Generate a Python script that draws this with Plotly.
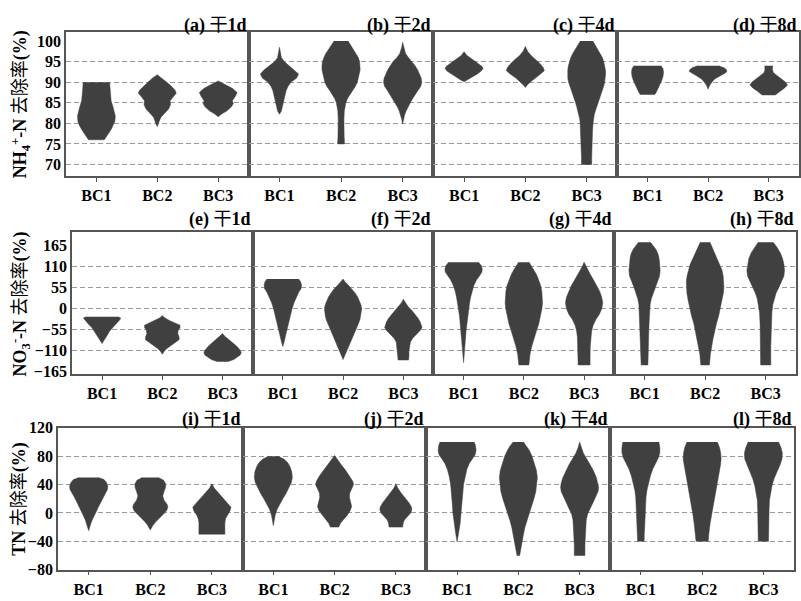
import plotly.graph_objects as go

# ---------------- data (value, relative density width) ----------------
categories = ["BC1", "BC2", "BC3"]
panel_titles = ["(a)|1d", "(b)|2d", "(c)|4d", "(d)|8d",
                "(e)|1d", "(f)|2d", "(g)|4d", "(h)|8d",
                "(i)|1d", "(j)|2d", "(k)|4d", "(l)|8d"]
row1_ticks = [70, 75, 80, 85, 90, 95, 100]
row2_ticks = [-165, -110, -55, 0, 55, 110, 165]
row3_ticks = [-80, -40, 0, 40, 80, 120]
row1_grid = [70, 75, 80, 85, 90, 95]
row2_grid = [-110, -55, 0, 55, 110]
row3_grid = [-40, 0, 40, 80]

a_bc1 = [(90, 0.70), (88.5, 0.72), (87, 0.74), (85.5, 0.78), (84, 0.88), (83, 0.95), (81.8, 1.0), (80.5, 0.98), (79.5, 0.9), (78.5, 0.78), (77.5, 0.64), (76.5, 0.5), (76, 0.42)]
a_bc2 = [(91.8, 0.0), (91, 0.25), (90, 0.5), (89, 0.75), (88, 0.95), (87.3, 1.0), (86.5, 0.85), (85.5, 0.68), (84.5, 0.7), (83.5, 0.6), (82.5, 0.4), (81.5, 0.2), (80.5, 0.1), (79.5, 0.04), (79.2, 0.0)]
a_bc3 = [(90.3, 0.0), (89.5, 0.35), (88.5, 0.75), (87.5, 1.0), (86.5, 0.9), (85.5, 0.75), (84.8, 0.8), (84, 0.7), (83, 0.45), (82.3, 0.2), (81.6, 0.0)]
b_bc1 = [(98.5, 0.0), (97.5, 0.05), (96, 0.1), (95, 0.25), (94, 0.5), (93, 0.8), (92, 1.0), (91, 0.9), (90, 0.6), (89, 0.45), (88, 0.35), (87, 0.3), (86, 0.25), (85, 0.2), (84, 0.15), (83, 0.1), (82.2, 0.0)]
b_bc2 = [(100, 0.37), (99, 0.5), (98, 0.65), (97, 0.8), (96, 0.9), (95, 0.97), (94, 1.0), (93, 1.0), (92, 0.95), (91, 0.9), (90, 0.85), (89, 0.75), (88, 0.6), (87, 0.45), (86, 0.33), (85, 0.25), (84, 0.2), (83, 0.17), (81, 0.15), (79, 0.14), (77, 0.16), (75, 0.18)]
b_bc3 = [(99.7, 0.0), (98.5, 0.05), (97, 0.15), (96, 0.3), (95, 0.5), (94, 0.65), (93, 0.78), (92, 0.88), (91, 0.97), (90, 1.0), (89, 0.95), (88, 0.8), (87, 0.65), (86, 0.52), (85, 0.4), (84, 0.28), (83, 0.18), (82, 0.1), (81, 0.05), (79.8, 0.0)]
c_bc1 = [(97.4, 0.0), (96.5, 0.15), (95.5, 0.45), (94.5, 0.75), (93.8, 0.95), (93.3, 1.0), (92.7, 0.9), (92, 0.7), (91.3, 0.45), (90.6, 0.2), (90.1, 0.0)]
c_bc2 = [(98.7, 0.0), (97.5, 0.12), (96.5, 0.3), (95.5, 0.55), (94.5, 0.78), (93.5, 0.95), (92.8, 1.0), (92, 0.8), (91, 0.5), (90, 0.25), (89.2, 0.08), (88.7, 0.0)]
c_bc3 = [(100, 0.33), (99, 0.45), (98, 0.6), (97, 0.73), (96, 0.83), (95, 0.9), (94, 0.96), (93, 0.99), (92, 1.0), (91, 0.99), (90, 0.95), (89, 0.9), (88, 0.82), (87, 0.74), (86, 0.66), (85, 0.58), (84, 0.52), (83, 0.46), (82, 0.4), (81, 0.36), (80, 0.34), (78, 0.31), (76, 0.29), (74, 0.28), (72, 0.27), (70, 0.27)]
d_bc1 = [(94, 0.72), (93.3, 0.82), (92.5, 0.85), (91.5, 0.83), (90.5, 0.76), (89.5, 0.67), (88.5, 0.57), (87.5, 0.46), (87, 0.38)]
d_bc2 = [(94, 0.55), (93.5, 0.85), (93, 0.98), (92.6, 1.0), (92.2, 0.9), (91.5, 0.6), (90.8, 0.35), (90, 0.2), (89.2, 0.08), (88.3, 0.0)]
d_bc3 = [(94, 0.21), (93, 0.2), (92.3, 0.25), (91.5, 0.45), (90.7, 0.7), (90, 0.9), (89.3, 1.0), (88.6, 0.85), (87.8, 0.6), (87.2, 0.42), (86.9, 0.35)]
e_bc1 = [(-22, 0.85), (-25, 1.0), (-30, 0.95), (-40, 0.75), (-50, 0.55), (-60, 0.4), (-70, 0.28), (-80, 0.15), (-88, 0.05), (-92, 0.0)]
e_bc2 = [(-19, 0.0), (-25, 0.15), (-32, 0.4), (-38, 0.7), (-44, 0.95), (-50, 0.95), (-58, 0.85), (-66, 0.83), (-75, 0.9), (-82, 0.9), (-90, 0.7), (-98, 0.45), (-105, 0.25), (-112, 0.1), (-120, 0.0)]
e_bc3 = [(-66, 0.0), (-72, 0.1), (-80, 0.3), (-90, 0.55), (-100, 0.78), (-108, 0.92), (-115, 1.0), (-122, 0.95), (-128, 0.8), (-134, 0.6), (-139, 0.3)]
f_bc1 = [(77, 0.85), (70, 0.95), (62, 1.0), (52, 0.98), (42, 0.85), (30, 0.72), (15, 0.6), (0, 0.5), (-15, 0.42), (-30, 0.35), (-45, 0.27), (-60, 0.2), (-75, 0.13), (-90, 0.06), (-100, 0.0)]
f_bc2 = [(77, 0.0), (70, 0.1), (60, 0.3), (50, 0.5), (40, 0.65), (30, 0.78), (20, 0.88), (10, 0.95), (0, 1.0), (-10, 0.98), (-20, 0.95), (-30, 0.9), (-45, 0.78), (-60, 0.65), (-75, 0.5), (-90, 0.37), (-105, 0.25), (-120, 0.12), (-134, 0.0)]
f_bc3 = [(24, 0.0), (15, 0.1), (5, 0.25), (-5, 0.45), (-15, 0.62), (-25, 0.78), (-35, 0.9), (-45, 0.98), (-50, 1.0), (-58, 0.9), (-68, 0.7), (-78, 0.5), (-88, 0.38), (-100, 0.32), (-112, 0.3), (-125, 0.3), (-135, 0.28)]
g_bc1 = [(121, 0.8), (112, 0.95), (103, 1.0), (95, 0.98), (85, 0.85), (75, 0.7), (60, 0.55), (45, 0.45), (30, 0.38), (15, 0.32), (0, 0.28), (-20, 0.22), (-40, 0.17), (-60, 0.13), (-80, 0.1), (-100, 0.07), (-120, 0.04), (-142, 0.0)]
g_bc2 = [(121, 0.28), (110, 0.42), (100, 0.55), (90, 0.66), (80, 0.75), (70, 0.83), (60, 0.9), (45, 0.96), (30, 1.0), (15, 1.0), (0, 0.97), (-20, 0.9), (-40, 0.8), (-60, 0.67), (-80, 0.53), (-100, 0.42), (-120, 0.33), (-135, 0.28), (-148, 0.27)]
g_bc3 = [(121, 0.0), (110, 0.1), (100, 0.2), (90, 0.32), (75, 0.5), (60, 0.68), (45, 0.83), (30, 0.94), (15, 1.0), (0, 0.95), (-15, 0.82), (-30, 0.62), (-45, 0.48), (-60, 0.4), (-75, 0.36), (-100, 0.33), (-125, 0.32), (-148, 0.32)]
h_bc1 = [(173, 0.32), (165, 0.45), (155, 0.6), (145, 0.7), (135, 0.76), (120, 0.8), (100, 0.83), (85, 0.8), (70, 0.68), (55, 0.56), (40, 0.45), (25, 0.36), (10, 0.3), (-10, 0.26), (-40, 0.24), (-70, 0.22), (-100, 0.21), (-130, 0.19), (-148, 0.18)]
h_bc2 = [(173, 0.26), (160, 0.38), (145, 0.52), (130, 0.66), (115, 0.8), (100, 0.9), (85, 0.96), (70, 1.0), (55, 1.0), (40, 0.97), (20, 0.9), (0, 0.82), (-20, 0.72), (-40, 0.6), (-60, 0.5), (-80, 0.42), (-100, 0.35), (-120, 0.28), (-148, 0.23)]
h_bc3 = [(173, 0.4), (160, 0.6), (145, 0.78), (130, 0.9), (115, 0.97), (100, 1.0), (85, 0.97), (70, 0.85), (55, 0.7), (40, 0.55), (25, 0.45), (10, 0.38), (-10, 0.33), (-40, 0.3), (-70, 0.28), (-100, 0.27), (-130, 0.27), (-148, 0.27)]
i_bc1 = [(50, 0.5), (47, 0.8), (43, 0.93), (38, 1.0), (33, 0.98), (28, 0.88), (22, 0.75), (15, 0.62), (8, 0.5), (2, 0.4), (-4, 0.28), (-10, 0.18), (-16, 0.1), (-22, 0.04), (-25, 0.0)]
i_bc2 = [(50, 0.42), (46, 0.7), (41, 0.8), (36, 0.8), (30, 0.72), (24, 0.65), (18, 0.72), (12, 0.88), (8, 0.92), (3, 0.85), (-2, 0.68), (-7, 0.48), (-12, 0.3), (-17, 0.15), (-22, 0.05), (-24, 0.0)]
i_bc3 = [(41, 0.0), (35, 0.12), (28, 0.35), (20, 0.6), (13, 0.85), (8, 1.0), (3, 0.95), (-3, 0.8), (-8, 0.72), (-14, 0.68), (-20, 0.68), (-26, 0.68), (-30, 0.68)]
j_bc1 = [(80, 0.25), (76, 0.55), (71, 0.75), (65, 0.88), (58, 0.97), (50, 1.0), (43, 0.95), (36, 0.83), (28, 0.68), (20, 0.5), (12, 0.33), (5, 0.2), (-3, 0.1), (-10, 0.05), (-18, 0.0)]
j_bc2 = [(81, 0.0), (75, 0.15), (68, 0.35), (60, 0.58), (52, 0.8), (45, 0.95), (40, 1.0), (34, 0.92), (28, 0.8), (22, 0.78), (15, 0.85), (9, 0.9), (3, 0.82), (-4, 0.65), (-10, 0.45), (-15, 0.3), (-20, 0.22)]
j_bc3 = [(41, 0.0), (35, 0.1), (28, 0.28), (21, 0.5), (14, 0.7), (8, 0.83), (4, 0.84), (0, 0.78), (-5, 0.62), (-10, 0.45), (-15, 0.38), (-20, 0.36)]
k_bc1 = [(100, 0.9), (95, 0.97), (88, 1.0), (82, 0.95), (76, 0.8), (70, 0.65), (62, 0.52), (52, 0.42), (40, 0.34), (28, 0.3), (15, 0.26), (0, 0.22), (-15, 0.16), (-28, 0.08), (-41, 0.0)]
k_bc2 = [(100, 0.27), (94, 0.45), (88, 0.58), (80, 0.72), (70, 0.85), (60, 0.95), (50, 1.0), (40, 0.98), (30, 0.92), (20, 0.82), (10, 0.7), (0, 0.58), (-10, 0.45), (-20, 0.35), (-30, 0.27), (-40, 0.2), (-50, 0.13), (-60, 0.07)]
k_bc3 = [(100, 0.0), (92, 0.08), (84, 0.2), (76, 0.38), (68, 0.56), (60, 0.72), (50, 0.88), (42, 0.97), (36, 1.0), (30, 0.97), (22, 0.85), (14, 0.7), (6, 0.55), (-2, 0.42), (-10, 0.35), (-20, 0.32), (-30, 0.3), (-45, 0.28), (-60, 0.28)]
l_bc1 = [(100, 0.95), (92, 1.0), (85, 1.0), (78, 0.93), (70, 0.78), (62, 0.63), (52, 0.5), (42, 0.4), (32, 0.32), (22, 0.27), (10, 0.24), (-5, 0.22), (-20, 0.2), (-30, 0.18), (-40, 0.17)]
l_bc2 = [(100, 0.8), (92, 0.92), (84, 0.98), (76, 1.0), (68, 0.97), (58, 0.9), (45, 0.82), (30, 0.72), (15, 0.6), (0, 0.5), (-15, 0.42), (-30, 0.35), (-40, 0.32)]
l_bc3 = [(100, 0.8), (92, 0.93), (84, 1.0), (76, 0.98), (68, 0.88), (58, 0.72), (48, 0.56), (38, 0.45), (28, 0.37), (18, 0.32), (5, 0.3), (-10, 0.28), (-25, 0.27), (-40, 0.27)]

panel_profiles = [
    [a_bc1, a_bc2, a_bc3], [b_bc1, b_bc2, b_bc3], [c_bc1, c_bc2, c_bc3], [d_bc1, d_bc2, d_bc3],
    [e_bc1, e_bc2, e_bc3], [f_bc1, f_bc2, f_bc3], [g_bc1, g_bc2, g_bc3], [h_bc1, h_bc2, h_bc3],
    [i_bc1, i_bc2, i_bc3], [j_bc1, j_bc2, j_bc3], [k_bc1, k_bc2, k_bc3], [l_bc1, l_bc2, l_bc3],
]

# ---------------- style / layout ----------------
W, H = 801, 601
HALF = 0.31            # max half-width of a violin in category units
FILL = "#404040"
AXC = "#555555"
GRIDC = "#9a9a9a"
FONT = "Liberation Serif, Times New Roman, Noto Sans CJK SC, serif"

row_x = [[66, 249, 434, 618, 800],
         [72, 253, 434, 615, 797],
         [58, 243, 427, 611, 795]]
row_y = [(25, 173), (231, 377), (432, 578)]
row_range = [[67.17, 102.13], [-172.6, 198.8], [-80, 120]]
row_ticks = [row1_ticks, row2_ticks, row3_ticks]
row_grid = [row1_grid, row2_grid, row3_grid]
row_title_y = [18, 218, 423]
ylabels = ["<b>NH<sub>4</sub><sup>+</sup>-N </b>去除率<b>(%)</b>",
           "<b>NO<sub>3</sub><sup>-</sup>-N </b>去除率<b>(%)</b>",
           "<b>TN </b>去除率<b>(%)</b>"]

fig = go.Figure()
layout = dict(width=W, height=H, margin=dict(l=0, r=0, t=0, b=0),
              paper_bgcolor="white", plot_bgcolor="white", showlegend=False,
              font=dict(family=FONT, color="black"))
annotations = []
positions = [1, 2, 3]

for p in range(12):
    r, c = divmod(p, 4)
    n = p + 1
    xa = "x" if n == 1 else f"x{n}"
    ya = "y" if n == 1 else f"y{n}"
    for k, prof in enumerate(panel_profiles[p]):
        vals = [v for v, w in prof]
        wids = [w for v, w in prof]
        xs = [positions[k] + HALF * w for w in wids] + [positions[k] - HALF * w for w in wids[::-1]]
        ys = vals + vals[::-1]
        fig.add_trace(go.Scatter(x=xs, y=ys, xaxis=xa, yaxis=ya, mode="lines",
                                 fill="toself", fillcolor=FILL,
                                 line=dict(color=FILL, width=0.5), hoverinfo="skip"))
    x0, x1 = row_x[r][c], row_x[r][c + 1]
    y0, y1 = row_y[r]
    layout["xaxis" if n == 1 else f"xaxis{n}"] = dict(
        domain=[x0 / W, x1 / W], anchor=ya, range=[0.5, 3.5],
        tickmode="array", tickvals=positions, ticktext=categories,
        ticks="outside", ticklen=4, tickwidth=1, tickcolor=AXC,
        showline=True, linecolor=AXC, linewidth=1.5, mirror=True,
        showgrid=False, zeroline=False,
        tickfont=dict(size=16, family=FONT, weight="bold", color="black"))
    layout["yaxis" if n == 1 else f"yaxis{n}"] = dict(
        domain=[1 - y1 / H, 1 - y0 / H], anchor=xa, range=row_range[r],
        tickmode="array", tickvals=row_ticks[r], showticklabels=(c == 0),
        ticks="", showline=True, linecolor=AXC, linewidth=1.5, mirror=True,
        showgrid=False, zeroline=False,
        minor=dict(tickvals=row_grid[r], showgrid=True, gridcolor=GRIDC,
                   griddash="5px,3px", gridwidth=1, ticks=""),
        tickfont=dict(size=16, family=FONT, weight="bold", color="black"))
    lab, day = panel_titles[p].split("|")
    annotations.append(dict(xref="paper", yref="paper", x=x1 / W, y=1 - row_title_y[r] / H,
                            xanchor="right", yanchor="middle", showarrow=False,
                            text=f"<b>{lab}</b> 干<b>{day}</b>",
                            font=dict(size=18, family=FONT, color="black")))

for r in range(3):
    y0, y1 = row_y[r]
    annotations.append(dict(xref="paper", yref="paper", x=20 / W, y=1 - (y0 + y1) / 2 / H,
                            xanchor="center", yanchor="middle", showarrow=False, textangle=-90,
                            text=ylabels[r], font=dict(size=18, family=FONT, color="black")))

layout["annotations"] = annotations
fig.update_layout(**layout)
fig.write_html("out.html", config={"displayModeBar": False},
               post_script="document.body.style.margin='0px';document.body.style.overflow='hidden';")
